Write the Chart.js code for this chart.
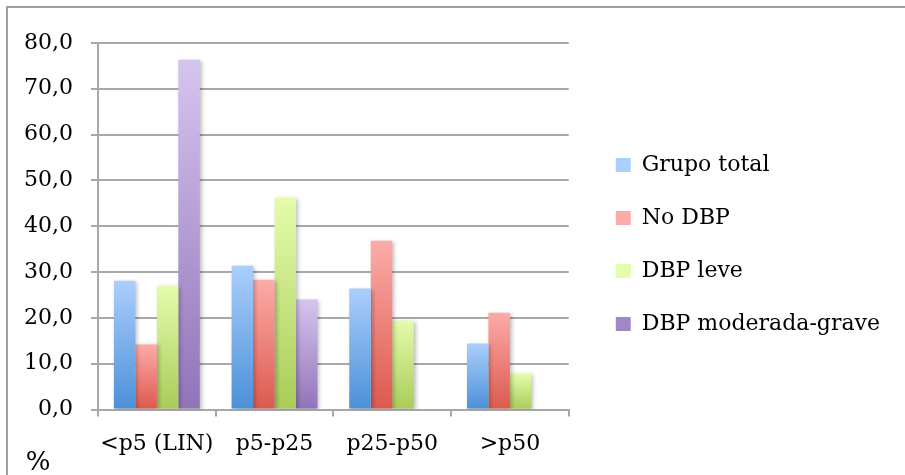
<!DOCTYPE html>
<html>
<head>
<meta charset="utf-8">
<script src="https://cdn.jsdelivr.net/npm/chart.js@4/dist/chart.umd.min.js"></script>
<style>
  html, body { margin: 0; padding: 0; background: #fff; }
  #wrap { width: 905px; height: 475px; position: relative; }
</style>
</head>
<body>
<div id="wrap"><canvas id="dbpChart"></canvas></div>
<script>
const categories = ['<p5 (LIN)', 'p5-p25', 'p25-p50', '>p50'];
const grupoTotal = [28.1, 31.4, 26.4, 14.4];
const noDbp = [14.2, 28.3, 36.8, 21.1];
const dbpLeve = [27.0, 46.2, 19.4, 7.8];
const dbpModGrave = [76.3, 24.0, null, null];

const FONT = 'DejaVu Serif';
const gridColor = '#a8a8a8';

// vertical gradient per bar: light at the top, darker at the base
function barGradient(top, bottom, mid) {
    return (c) => {
        if (c.type !== 'data' || c.raw == null || !c.chart.chartArea) return mid;
        const y = c.chart.scales.y;
        const g = c.chart.ctx.createLinearGradient(0, y.getPixelForValue(c.raw), 0, y.getPixelForValue(0));
        g.addColorStop(0, top);
        g.addColorStop(1, bottom);
        return g;
    };
}

const framePlugin = {
    id: 'frame',
    beforeDraw(chart) {
        const ctx = chart.ctx;
        ctx.save();
        ctx.strokeStyle = '#a0a0a0';
        ctx.lineWidth = 2;
        ctx.beginPath();
        ctx.moveTo(7, 475);
        ctx.lineTo(7, 7);
        ctx.lineTo(905, 7);
        ctx.stroke();
        ctx.restore();
    },
    beforeDatasetsDraw(chart) {
        const ctx = chart.ctx;
        ctx.save();
        ctx.shadowColor = 'rgba(0,0,0,0.25)';
        ctx.shadowBlur = 4;
        ctx.shadowOffsetX = 2;
        ctx.shadowOffsetY = 1;
    },
    afterDatasetsDraw(chart) {
        chart.ctx.restore();
    },
    afterDraw(chart) {
        const ctx = chart.ctx;
        ctx.save();
        ctx.fillStyle = '#000';
        ctx.font = '26px "' + FONT + '"';
        ctx.textAlign = 'center';
        ctx.textBaseline = 'alphabetic';
        ctx.fillText('%', 38, 470);
        ctx.restore();
    }
};

new Chart(document.getElementById('dbpChart'), {
    type: 'bar',
    data: {
        labels: categories,
        datasets: [
            { label: 'Grupo total', data: grupoTotal, yAxisID: 'y',
              backgroundColor: barGradient('#abcefc', '#4b90d8', '#7fb0ea') },
            { label: 'No DBP', data: noDbp, yAxisID: 'y',
              backgroundColor: barGradient('#fcaba8', '#dc594d', '#ee8078') },
            { label: 'DBP leve', data: dbpLeve, yAxisID: 'y',
              backgroundColor: barGradient('#e4fcab', '#a9cc59', '#c8e483') },
            { label: 'DBP moderada-grave', data: dbpModGrave, yAxisID: 'y',
              backgroundColor: barGradient('#d6c4ef', '#9173b8', '#b39ad4') }
        ]
    },
    options: {
        responsive: true,
        maintainAspectRatio: false,
        animation: false,
        layout: { padding: { top: 18, bottom: 4, left: 0, right: 15 } },
        datasets: {
            bar: { categoryPercentage: 0.73, barPercentage: 1.0 }
        },
        plugins: {
            title: { display: true, text: '', padding: { top: 0, bottom: 14 }, font: { size: 9 } },
            tooltip: { enabled: false },
            legend: {
                position: 'right',
                maxWidth: 420,
                labels: {
                    color: '#000',
                    font: { family: FONT, size: 22 },
                    boxWidth: 15,
                    boxHeight: 14,
                    padding: 31
                }
            }
        },
        scales: {
            x: {
                grid: { offset: true, drawOnChartArea: false, tickLength: 7, color: gridColor, lineWidth: 2 },
                border: { color: gridColor, width: 2 },
                ticks: {
                    color: '#000',
                    padding: 14,
                    autoSkip: false,
                    minRotation: 0,
                    maxRotation: 0,
                    font: { family: FONT, size: 22 }
                }
            },
            y: {
                min: 0,
                max: 80,
                afterFit: (s) => { s.width = 98; },
                grid: { tickLength: 7, color: gridColor, lineWidth: 2 },
                border: { color: gridColor, width: 2 },
                ticks: {
                    stepSize: 10,
                    color: '#000',
                    padding: 18,
                    font: { family: FONT, size: 22 },
                    callback: (v) => v.toFixed(1).replace('.', ',')
                }
            },
            spacer: {
                type: 'linear',
                position: 'right',
                afterFit: (s) => { s.width = 16; },
                grid: { display: false },
                border: { display: false },
                ticks: { display: false }
            }
        }
    },
    plugins: [framePlugin]
});
</script>
</body>
</html>
